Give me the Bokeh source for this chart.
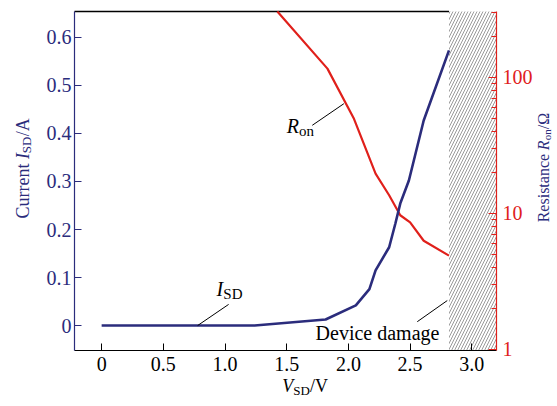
from bokeh.plotting import figure
from bokeh.models import (Range1d, LogScale, LinearAxis, LogAxis, FixedTicker,
                          Label)
from bokeh.embed import file_html
from bokeh.resources import INLINE

# Source-drain current vs. voltage
v_current = [0.0, 1.24, 1.815, 2.06, 2.17, 2.22, 2.33, 2.38, 2.42, 2.49, 2.61, 2.815]
i_sd = [0.0, 0.0, 0.0125, 0.042, 0.076, 0.115, 0.163, 0.212, 0.254, 0.302, 0.427, 0.573]

# On-resistance vs. voltage (log scale, right axis)
v_res = [1.424, 1.83, 2.045, 2.22, 2.33, 2.42, 2.50, 2.61, 2.815]
r_on = [305, 116, 49.6, 19.6, 13.6, 9.7, 8.6, 6.3, 4.9]

# Voltage above which the device is damaged
damage_start = 2.815

x_ticks = [0, 0.5, 1.0, 1.5, 2.0, 2.5, 3.0]
x_tick_labels = ["0", "0.5", "1.0", "1.5", "2.0", "2.5", "3.0"]
i_ticks = [0, 0.1, 0.2, 0.3, 0.4, 0.5, 0.6]
i_tick_labels = ["0", "0.1", "0.2", "0.3", "0.4", "0.5", "0.6"]
r_ticks = [1, 10, 100]
r_tick_labels = ["1", "10", "100"]
r_minor = [2, 3, 4, 5, 6, 7, 8, 9, 20, 30, 40, 50, 60, 70, 80, 90, 200, 300]

# plotted box (axis extents) and the canvas extents around it
X_LO, X_HI = -0.22, 3.2
I_LO, I_HI = -0.052, 0.654
R_LO, R_HI = 0.983, 305

NAVY = "#2b2c7c"
RED = "#e0201b"
FONT = "Liberation Serif"

p = figure(width=557, height=406, output_backend="svg", toolbar_location=None,
           x_range=Range1d(-0.8197, 3.6944), y_range=Range1d(-0.1686, 0.6769),
           x_axis_location=None, y_axis_location=None,
           min_border_left=0, min_border_right=0, min_border_top=0,
           min_border_bottom=0)
p.extra_y_ranges = {"r": Range1d(0.3810, 367.4)}
p.extra_y_scales = {"r": LogScale()}
p.xgrid.visible = False
p.ygrid.visible = False
p.outline_line_color = None
p.background_fill_color = "white"
p.border_fill_color = "white"

# hatched damage region
p.quad(left=[damage_start], right=[X_HI], bottom=[I_LO], top=[I_HI],
       fill_color="white", line_color=None,
       hatch_pattern="/", hatch_color="#9a9a9a", hatch_scale=6, hatch_weight=1)

# top border, up to the hatched region
p.segment(x0=[X_LO], y0=[I_HI], x1=[damage_start], y1=[I_HI],
          line_color="black", line_width=1.5)

# bottom axis
xa = LinearAxis(fixed_location=I_LO, bounds=(X_LO, X_HI))
xa.ticker = FixedTicker(ticks=x_ticks, minor_ticks=[])
xa.major_label_overrides = dict(zip(x_ticks, x_tick_labels))
xa.axis_line_color = "black"
xa.axis_line_width = 1.2
xa.major_tick_in = 7
xa.major_tick_out = 0
xa.major_tick_line_color = "black"
xa.minor_tick_line_color = None
xa.major_label_text_font = FONT
xa.major_label_text_font_size = "20px"
xa.major_label_text_color = "black"
xa.major_label_standoff = 6
p.add_layout(xa, "below")

# left axis (current)
ya = LinearAxis(fixed_location=X_LO, bounds=(I_LO, I_HI))
ya.ticker = FixedTicker(ticks=i_ticks, minor_ticks=[])
ya.major_label_overrides = dict(zip(i_ticks, i_tick_labels))
ya.axis_line_color = NAVY
ya.axis_line_width = 1.2
ya.major_tick_in = 7
ya.major_tick_out = 0
ya.major_tick_line_color = NAVY
ya.minor_tick_line_color = None
ya.major_label_text_font = FONT
ya.major_label_text_font_size = "20px"
ya.major_label_text_color = NAVY
ya.major_label_standoff = 3
p.add_layout(ya, "left")

# right axis (resistance, log)
ra = LogAxis(y_range_name="r", fixed_location=X_HI, bounds=(R_LO, R_HI))
ra.ticker = FixedTicker(ticks=r_ticks, minor_ticks=r_minor)
ra.major_label_overrides = dict(zip(r_ticks, r_tick_labels))
ra.axis_line_color = RED
ra.axis_line_width = 1.2
ra.major_tick_in = 8
ra.major_tick_out = 0
ra.minor_tick_in = 5
ra.minor_tick_out = 0
ra.major_tick_line_color = RED
ra.minor_tick_line_color = RED
ra.major_label_text_font = FONT
ra.major_label_text_font_size = "20px"
ra.major_label_text_color = RED
ra.major_label_standoff = 6
p.add_layout(ra, "right")

# curves
p.line(v_res, r_on, y_range_name="r", line_color=RED, line_width=2.2)
p.line(v_current, i_sd, line_color=NAVY, line_width=2.6)

# leader lines for the annotations
p.segment(x0=[1.707, 0.778, 2.558], y0=[0.417, 0.0, 0.008],
          x1=[1.963, 1.029, 2.801], y1=[0.462, 0.044, 0.052],
          line_color="black", line_width=1)


def lab(x, y, text, size, color="black", italic=False, angle=0):
    p.add_layout(Label(x=x, y=y, text=text, text_font=FONT,
                       text_font_size=size, text_color=color,
                       text_font_style="italic" if italic else "normal",
                       text_align="left", text_baseline="alphabetic",
                       angle=angle, angle_units="deg"))


# curve labels
lab(1.50, 0.416, "R", "20px", italic=True)
lab(1.599, 0.406, "on", "15px")
lab(0.93, 0.077, "I", "20px", italic=True)
lab(0.986, 0.066, "SD", "15px")
lab(1.734, -0.015, "Device damage", "20px")

# x axis title
lab(1.464, -0.125, "V", "18px", italic=True)
lab(1.553, -0.136, "SD", "13px")
lab(1.688, -0.125, "/V", "18px")

# left axis title (rotated)
lab(-0.640, 0.223, "Current ", "18px", color=NAVY, angle=90)
lab(-0.640, 0.347, "I", "18px", color=NAVY, italic=True, angle=90)
lab(-0.608, 0.359, "SD", "13px", color=NAVY, angle=90)
lab(-0.640, 0.394, "/A", "18px", color=NAVY, angle=90)

# right axis title (rotated)
lab(3.582, 0.215, "Resistance ", "16px", color=NAVY, angle=90)
lab(3.582, 0.365, "R", "16px", color=NAVY, italic=True, angle=90)
lab(3.606, 0.386, "on", "11px", color=NAVY, angle=90)
lab(3.582, 0.409, "/\u03a9", "16px", color=NAVY, angle=90)

open("out.html", "w").write(file_html(p, INLINE))
